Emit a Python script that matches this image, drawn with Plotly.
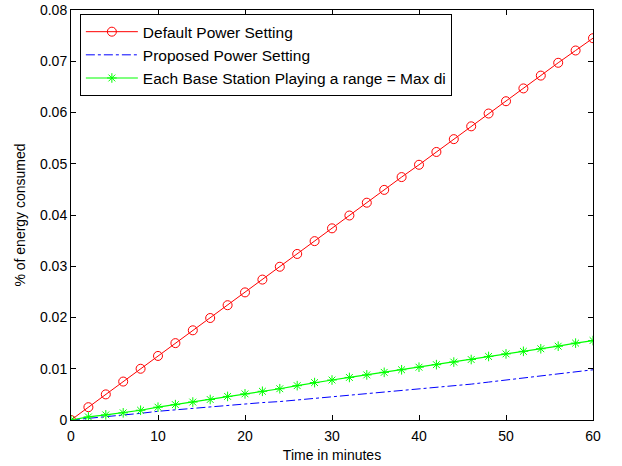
import plotly.graph_objects as go

time_min = [0, 2, 4, 6, 8, 10, 12, 14, 16, 18, 20, 22, 24, 26, 28, 30,
            32, 34, 36, 38, 40, 42, 44, 46, 48, 50, 52, 54, 56, 58, 60]
default_power = [0, 0.0025, 0.0050, 0.0075, 0.0100, 0.0125, 0.0150, 0.0175, 0.0199, 0.0224,
                 0.0249, 0.0274, 0.0299, 0.0324, 0.0349, 0.0374, 0.0399, 0.0424, 0.0449, 0.0474,
                 0.0498, 0.0523, 0.0548, 0.0573, 0.0598, 0.0622, 0.0647, 0.0672, 0.0697, 0.0721, 0.0745]
proposed_power = [0, 0.0003, 0.0006, 0.0009, 0.0013, 0.0017, 0.0020, 0.0023, 0.0026, 0.0029,
                  0.0032, 0.0034, 0.0036, 0.0039, 0.0042, 0.0045, 0.0048, 0.0051, 0.0054, 0.0057,
                  0.0061, 0.0064, 0.0067, 0.0070, 0.0074, 0.0078, 0.0082, 0.0085, 0.0089, 0.0093, 0.0098]
max_di = [0, 0.0006, 0.0010, 0.0014, 0.0019, 0.0025, 0.0030, 0.0035, 0.0040, 0.0046,
          0.0051, 0.0056, 0.0061, 0.0067, 0.0073, 0.0078, 0.0083, 0.0088, 0.0093, 0.0098,
          0.0103, 0.0108, 0.0113, 0.0118, 0.0124, 0.0129, 0.0134, 0.0139, 0.0144, 0.0150, 0.0155]

names = ["Default Power Setting", "Proposed Power Setting",
         "Each Base Station Playing a range = Max di"]
y_ticks = [0, 0.01, 0.02, 0.03, 0.04, 0.05, 0.06, 0.07, 0.08]
y_tick_labels = ["0", "0.01", "0.02", "0.03", "0.04", "0.05", "0.06", "0.07", "0.08"]
x_ticks = [0, 10, 20, 30, 40, 50, 60]

fig = go.Figure()
fig.add_trace(go.Scatter(x=time_min, y=default_power, name=names[0], mode="lines+markers",
                         line=dict(color="#FF0000", width=1),
                         marker=dict(symbol="circle-open", size=9, color="#FF0000",
                                     line=dict(width=1, color="#FF0000"))))
fig.add_trace(go.Scatter(x=time_min, y=proposed_power, name=names[1], mode="lines",
                         line=dict(color="#0000FF", width=1, dash="dashdot")))
fig.add_trace(go.Scatter(x=time_min, y=max_di, name=names[2], mode="lines+markers",
                         line=dict(color="#00FF00", width=1.2),
                         marker=dict(symbol="asterisk-open", size=8, color="#00FF00",
                                     line=dict(width=1, color="#00FF00"))))

axis_common = dict(showline=True, linecolor="black", linewidth=1, mirror="ticks",
                   ticks="inside", ticklen=5, tickcolor="black", showgrid=False,
                   zeroline=False, automargin=False,
                   tickfont=dict(family="Arial, Liberation Sans", size=14, color="black"))

fig.update_layout(
    width=622, height=466,
    margin=dict(l=71, r=29, t=10, b=46),
    paper_bgcolor="white", plot_bgcolor="white",
    font=dict(family="Arial, Liberation Sans", size=14, color="black"),
    xaxis=dict(range=[0, 60], tickvals=x_ticks, ticklabelstandoff=3,
               title=dict(text="Time in minutes", standoff=7, font=dict(size=14)), **axis_common),
    yaxis=dict(range=[0, 0.08], tickvals=y_ticks, ticktext=y_tick_labels,
               title=dict(text="% of energy consumed", standoff=11, font=dict(size=14)), **axis_common),
    legend=dict(x=0.017, y=0.990, xanchor="left", yanchor="top",
                bgcolor="white", bordercolor="black", borderwidth=1,
                font=dict(size=15.5), tracegroupgap=0, itemwidth=52),
    showlegend=True,
)

fig.write_html("out.html", config={"displayModeBar": False},
               post_script="document.body.style.margin='0';")
